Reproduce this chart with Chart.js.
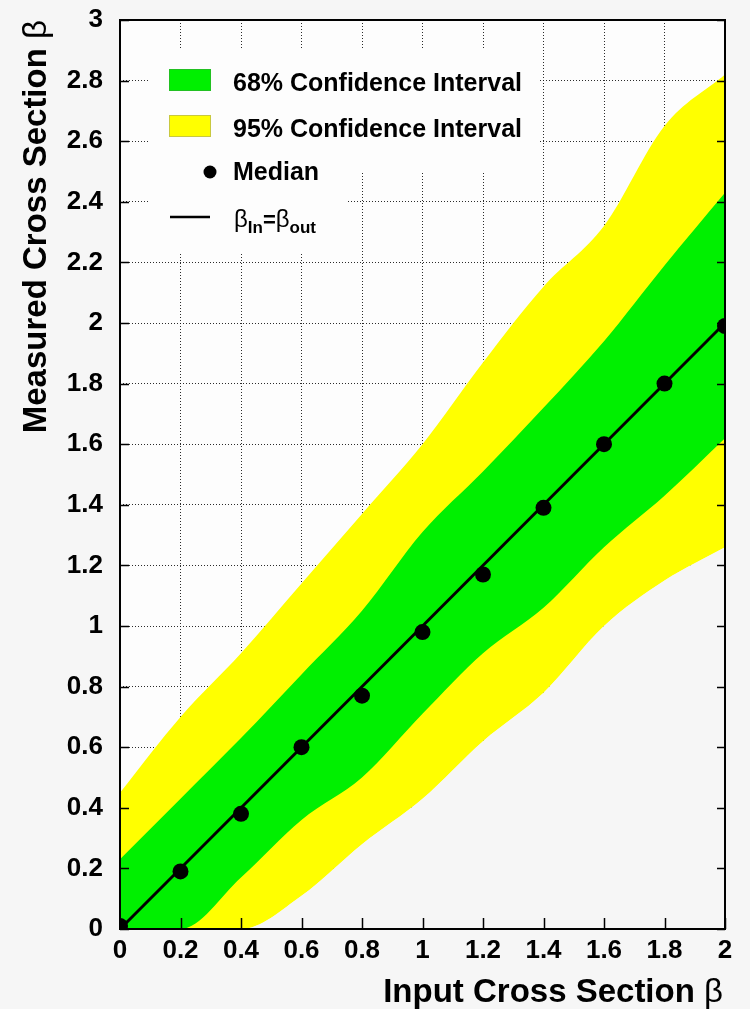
<!DOCTYPE html>
<html>
<head>
<meta charset="utf-8">
<script src="https://cdn.jsdelivr.net/npm/chart.js@4.4.0/dist/chart.umd.min.js"></script>
<style>
    html, body { margin: 0; padding: 0; background: #f6f6f6; }
    #wrap { width: 750px; height: 1009px; }
</style>
</head>
<body>
<div id="wrap"><canvas id="chart" width="750" height="1009"></canvas></div>
<script>
const inputBeta = [0, 0.2, 0.4, 0.6, 0.8, 1.0, 1.2, 1.4, 1.6, 1.8, 2.0];
const medianBeta = [0.01, 0.19, 0.38, 0.60, 0.77, 0.98, 1.17, 1.39, 1.60, 1.80, 1.99];
const upper95 = [0.45, 0.70, 0.91, 1.14, 1.37, 1.60, 1.87, 2.12, 2.32, 2.65, 2.82];
const upper68 = [0.23, 0.43, 0.63, 0.84, 1.05, 1.31, 1.51, 1.72, 1.94, 2.19, 2.43];
const lower68 = [0, 0, 0.17, 0.36, 0.50, 0.71, 0.91, 1.06, 1.26, 1.43, 1.62];
const lower95 = [0, 0, 0, 0.11, 0.28, 0.43, 0.62, 0.78, 1.00, 1.15, 1.26];
const identityX = [0, 2];
const identityY = [0, 2];

const xTickLabels = ['0', '0.2', '0.4', '0.6', '0.8', '1', '1.2', '1.4', '1.6', '1.8', '2'];
const yTickLabels = ['0', '0.2', '0.4', '0.6', '0.8', '1', '1.2', '1.4', '1.6', '1.8', '2', '2.2', '2.4', '2.6', '2.8', '3'];

const legendLabels = ['68% Confidence Interval', '95% Confidence Interval', 'Median'];

const GREEN = '#00f000';
const YELLOW = '#ffff00';
const PAGE = '#f6f6f6';
const FONT = '"Liberation Sans", Arial, sans-serif';

function Pairs(xs, ys) {
    return xs.map((x, i) => ({ x, y: ys[i] }));
}

function Band(values, extra) {
    return Object.assign({
        data: Pairs(inputBeta, values),
        borderWidth: 0,
        pointRadius: 0,
        cubicInterpolationMode: 'monotone',
        fill: false
    }, extra);
}

const background = {
    id: 'background',
    beforeDraw(chart) {
        const { ctx, chartArea: a } = chart;
        ctx.save();
        ctx.fillStyle = PAGE;
        ctx.fillRect(0, 0, chart.width, chart.height);
        ctx.fillStyle = '#fdfdfd';
        ctx.fillRect(a.left, a.top, a.right - a.left, a.bottom - a.top);
        ctx.restore();
    }
};

const decorations = {
    id: 'decorations',
    afterDraw(chart) {
        const { ctx, chartArea: a, scales } = chart;
        ctx.save();

        // soften the grid under the lower band, as in the original
        const lowerLine = chart.getDatasetMeta(5).dataset;
        if (lowerLine && typeof lowerLine.path === 'function') {
            ctx.save();
            ctx.beginPath();
            ctx.rect(a.left, a.top, a.right - a.left, a.bottom - a.top);
            ctx.clip();
            ctx.beginPath();
            lowerLine.path(ctx);
            ctx.lineTo(a.right, a.bottom + 2);
            ctx.lineTo(a.left, a.bottom + 2);
            ctx.closePath();
            ctx.fillStyle = 'rgba(246,246,246,0.7)';
            ctx.fill();
            ctx.restore();
        }

        // inward tick marks
        ctx.strokeStyle = '#000';
        ctx.lineWidth = 1.5;
        ctx.beginPath();
        scales.x.ticks.forEach(t => {
            const px = Math.round(scales.x.getPixelForValue(t.value)) + 0.5;
            ctx.moveTo(px, a.bottom);
            ctx.lineTo(px, a.bottom - 11);
        });
        scales.y.ticks.forEach(t => {
            const py = Math.round(scales.y.getPixelForValue(t.value)) + 0.5;
            ctx.moveTo(a.left, py);
            ctx.lineTo(a.left + 9, py);
            ctx.moveTo(a.right, py);
            ctx.lineTo(a.right - 8, py);
        });
        ctx.stroke();

        // frame
        ctx.lineWidth = 2;
        ctx.strokeRect(a.left, a.top, a.right - a.left, a.bottom - a.top);

        DrawLegend(ctx);
        DrawTitles(ctx);
        ctx.restore();
    }
};

function DrawLegend(ctx) {
    ctx.fillStyle = '#fdfdfd';
    ctx.fillRect(148, 50, 392, 123);
    ctx.fillRect(148, 173, 199, 79);

    ctx.fillStyle = GREEN;
    ctx.fillRect(169, 69, 42, 22);
    ctx.strokeStyle = '#22c022';
    ctx.lineWidth = 1;
    ctx.strokeRect(169.5, 69.5, 41, 21);

    ctx.fillStyle = YELLOW;
    ctx.fillRect(169, 115, 42, 22);
    ctx.strokeStyle = '#c8c840';
    ctx.strokeRect(169.5, 115.5, 41, 21);

    ctx.fillStyle = '#000';
    ctx.beginPath();
    ctx.arc(210, 172, 6.5, 0, Math.PI * 2);
    ctx.fill();

    ctx.strokeStyle = '#000';
    ctx.lineWidth = 2.5;
    ctx.beginPath();
    ctx.moveTo(170, 217);
    ctx.lineTo(210, 217);
    ctx.stroke();

    ctx.textAlign = 'left';
    ctx.textBaseline = 'alphabetic';
    ctx.font = 'bold 25px ' + FONT;
    ctx.fillText(legendLabels[0], 233, 91);
    ctx.fillText(legendLabels[1], 233, 137);
    ctx.fillText(legendLabels[2], 233, 180);

    // beta_In = beta_out
    let x = 234;
    const parts = [
        { t: 'β', f: '24px ' + FONT, y: 227 },
        { t: 'In', f: 'bold 17px ' + FONT, y: 233 },
        { t: '=', f: 'bold 22px ' + FONT, y: 227 },
        { t: 'β', f: '24px ' + FONT, y: 227 },
        { t: 'out', f: 'bold 17px ' + FONT, y: 233 }
    ];
    parts.forEach(p => {
        ctx.font = p.f;
        ctx.fillText(p.t, x, p.y);
        x += ctx.measureText(p.t).width;
    });
}

function DrawTitles(ctx) {
    ctx.fillStyle = '#000';
    ctx.textBaseline = 'alphabetic';
    ctx.textAlign = 'left';

    const boldText = 'Input Cross Section ';
    ctx.font = '33px ' + FONT;
    const wBeta = ctx.measureText('β').width;
    ctx.font = 'bold 33px ' + FONT;
    const wBold = ctx.measureText(boldText).width;
    const xStart = 723 - wBeta - wBold;
    ctx.fillText(boldText, xStart, 1002);
    ctx.font = '33px ' + FONT;
    ctx.fillText('β', xStart + wBold, 1002);

    ctx.save();
    ctx.translate(46, 20);
    ctx.rotate(-Math.PI / 2);
    const yBold = 'Measured Cross Section ';
    ctx.font = 'bold 33px ' + FONT;
    const wyBold = ctx.measureText(yBold).width;
    const yStart = -wBeta - wyBold;
    ctx.fillText(yBold, yStart, 0);
    ctx.font = '33px ' + FONT;
    ctx.fillText('β', yStart + wyBold, 0);
    ctx.restore();
}

const gridStyle = {
    color: 'rgba(20,20,20,0.9)',
    lineWidth: 1,
    drawTicks: false
};

const config = {
    type: 'line',
    data: {
        datasets: [
            {
                label: 'Median',
                data: Pairs(inputBeta, medianBeta),
                showLine: false,
                pointRadius: 8,
                pointBackgroundColor: '#000',
                pointBorderWidth: 0,
                order: 0
            },
            {
                label: 'beta_in = beta_out',
                data: Pairs(identityX, identityY),
                borderColor: '#000',
                borderWidth: 3,
                pointRadius: 0,
                fill: false,
                order: 1
            },
            Band(upper68, { label: '68% up', backgroundColor: GREEN, fill: 3, order: 2 }),
            Band(lower68, { label: '68% down', order: 3 }),
            Band(upper95, { label: '95% up', backgroundColor: YELLOW, fill: 5, order: 4 }),
            Band(lower95, { label: '95% down', backgroundColor: PAGE, fill: 'start', order: 5 })
        ]
    },
    options: {
        responsive: false,
        animation: false,
        devicePixelRatio: 1,
        layout: { padding: { top: 20, right: 25, left: 0, bottom: 0 } },
        plugins: {
            legend: { display: false },
            tooltip: { enabled: false }
        },
        scales: {
            x: {
                type: 'linear',
                min: 0,
                max: 2,
                z: 1,
                afterFit: s => { s.height = 80; s.paddingLeft = 0; s.paddingRight = 0; },
                afterBuildTicks: s => { s.ticks = inputBeta.map(v => ({ value: v })); },
                ticks: {
                    callback: (v, i) => xTickLabels[i],
                    font: { family: FONT, size: 26, weight: 'bold' },
                    color: '#000',
                    padding: 6,
                    maxRotation: 0,
                    autoSkip: false
                },
                grid: gridStyle,
                border: { display: false, dash: [1, 2] }
            },
            y: {
                type: 'linear',
                min: 0,
                max: 3,
                z: 1,
                afterFit: s => { s.width = 120; s.paddingTop = 0; s.paddingBottom = 0; },
                afterBuildTicks: s => { s.ticks = yTickLabels.map(t => ({ value: Number(t) })); },
                ticks: {
                    callback: (v, i) => yTickLabels[i],
                    font: { family: FONT, size: 26, weight: 'bold' },
                    color: '#000',
                    padding: 17,
                    autoSkip: false
                },
                grid: gridStyle,
                border: { display: false, dash: [1, 2] }
            }
        }
    },
    plugins: [background, decorations]
};

new Chart(document.getElementById('chart').getContext('2d'), config);
</script>
</body>
</html>
